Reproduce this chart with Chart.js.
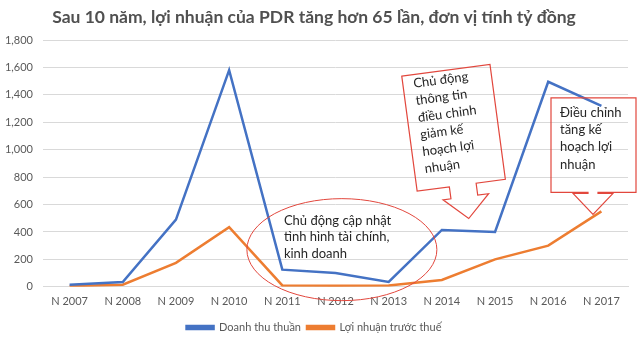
<!DOCTYPE html>
<html lang="vi">
<head>
<meta charset="UTF-8">
<title>PDR doanh thu & lợi nhuận</title>
<script src="https://cdn.jsdelivr.net/npm/chart.js"></script>
<style>
    body { margin: 0; background: #ffffff; }
    #chart { display: block; }
</style>
</head>
<body>
<canvas id="chart" width="640" height="343"></canvas>
<script>
// --- Daten ---
const years = ['N 2007', 'N 2008', 'N 2009', 'N 2010', 'N 2011', 'N 2012', 'N 2013', 'N 2014', 'N 2015', 'N 2016', 'N 2017'];
const doanhThu = [15, 35, 490, 1580, 125, 100, 35, 415, 400, 1495, 1320];
const loiNhuan = [5, 15, 175, 435, 10, 8, 10, 50, 200, 300, 550];
const yTicks = [0, 200, 400, 600, 800, 1000, 1200, 1400, 1600, 1800];

const FONT = 'Lato, "Open Sans", sans-serif';
const RED = '#e2473d';

// draw a multi-line text block, lines centred on y0, y0+lh, ...
function drawLines(ctx, lines, x0, y0, lh) {
    lines.forEach((t, i) => ctx.fillText(t, x0, y0 + i * lh));
}

// Chú thích: ellipse + two arrow callouts
const calloutPlugin = {
    id: 'callouts',
    afterDraw(chart) {
        const { ctx } = chart;
        const x = chart.scales.x, y = chart.scales.y;
        ctx.save();
        ctx.font = '13px ' + FONT;
        ctx.fillStyle = '#262626';
        ctx.textBaseline = 'middle';
        ctx.textAlign = 'left';

        // 1) ellipse around 2011-2013
        const ex = x.getPixelForValue(5.12), ey = y.getPixelForValue(271);
        ctx.strokeStyle = RED;
        ctx.lineWidth = 1;
        ctx.beginPath();
        ctx.ellipse(ex, ey, 95, 51, 0, 0, Math.PI * 2);
        ctx.stroke();
        drawLines(ctx, ['Chủ động cập nhật', 'tình hình tài chính,', 'kinh doanh'], ex - 58, ey - 29, 16.5);

        // 2) tilted down-arrow callout above 2014-2015
        const cx = x.getPixelForValue(7.22), cy = y.getPixelForValue(1160);
        ctx.save();
        ctx.translate(cx, cy);
        ctx.rotate(-0.133);
        const pts1 = [[-44.5, -58], [44.5, -58], [44.5, 58], [15, 58], [15, 70], [26, 70], [3, 92], [-20, 70], [-12, 70], [-12, 58], [-44.5, 58]];
        ctx.beginPath();
        pts1.forEach((p, i) => i ? ctx.lineTo(p[0], p[1]) : ctx.moveTo(p[0], p[1]));
        ctx.closePath();
        ctx.lineWidth = 1.2;
        ctx.stroke();
        drawLines(ctx, ['Chủ động', 'thông tin', 'điều chỉnh', 'giảm kế', 'hoạch lợi', 'nhuận'], -34, -49, 17.2);
        ctx.restore();

        // 3) straight down-arrow callout at 2017
        const bl = 551, br = 636, bt = y.getPixelForValue(1378), bb = y.getPixelForValue(689);
        const tipY = y.getPixelForValue(528);
        const pts2 = [[bl, bt], [br, bt], [br, bb], [598, bb], [598, bb + 1], [613, bb + 1], [593, tipY], [573, bb + 1], [588, bb + 1], [588, bb], [bl, bb]];
        ctx.beginPath();
        pts2.forEach((p, i) => i ? ctx.lineTo(p[0], p[1]) : ctx.moveTo(p[0], p[1]));
        ctx.closePath();
        ctx.lineWidth = 1.2;
        ctx.stroke();
        drawLines(ctx, ['Điều chỉnh', 'tăng kế', 'hoạch lợi', 'nhuận'], bl + 9, bt + 15, 17.2);

        ctx.restore();
    }
};

new Chart(document.getElementById('chart'), {
    type: 'line',
    data: {
        labels: years,
        datasets: [
            {
                label: 'Doanh thu thuần',
                data: doanhThu,
                borderColor: '#4472c4',
                backgroundColor: '#4472c4',
                borderWidth: 2.5,
                pointRadius: 0,
                tension: 0
            },
            {
                label: 'Lợi nhuận trước thuế',
                data: loiNhuan,
                borderColor: '#ed7d31',
                backgroundColor: '#ed7d31',
                borderWidth: 2.5,
                pointRadius: 0,
                tension: 0
            }
        ]
    },
    options: {
        responsive: false,
        animation: false,
        devicePixelRatio: 1,
        layout: { padding: { left: 0, right: 12, top: 0, bottom: 0 } },
        scales: {
            x: {
                offset: true,
                grid: { display: false, drawTicks: false },
                border: { color: '#d9d9d9' },
                ticks: { color: '#595959', font: { family: FONT, size: 11 }, padding: 8, maxRotation: 0 }
            },
            y: {
                min: 0,
                max: 1800,
                afterBuildTicks: (s) => { s.ticks = yTicks.map(v => ({ value: v })); },
                afterFit: (s) => { s.width = 43; },
                grid: { color: '#d9d9d9', drawTicks: false },
                border: { display: false },
                ticks: {
                    color: '#595959',
                    font: { family: FONT, size: 11 },
                    padding: 10,
                    callback: (v) => v.toLocaleString('en-US')
                }
            }
        },
        plugins: {
            title: {
                display: true,
                text: 'Sau 10 năm, lợi nhuận của PDR tăng hơn 65 lần, đơn vị tính tỷ đồng',
                color: '#505050',
                font: { family: FONT, size: 17.5, weight: 'bold' },
                padding: { top: 7, bottom: 12 }
            },
            legend: {
                position: 'bottom',
                labels: {
                    color: '#595959',
                    font: { family: FONT, size: 11 },
                    boxWidth: 27,
                    boxHeight: 3,
                    padding: 6
                }
            },
            tooltip: { enabled: false }
        }
    },
    plugins: [calloutPlugin]
});
</script>
</body>
</html>
